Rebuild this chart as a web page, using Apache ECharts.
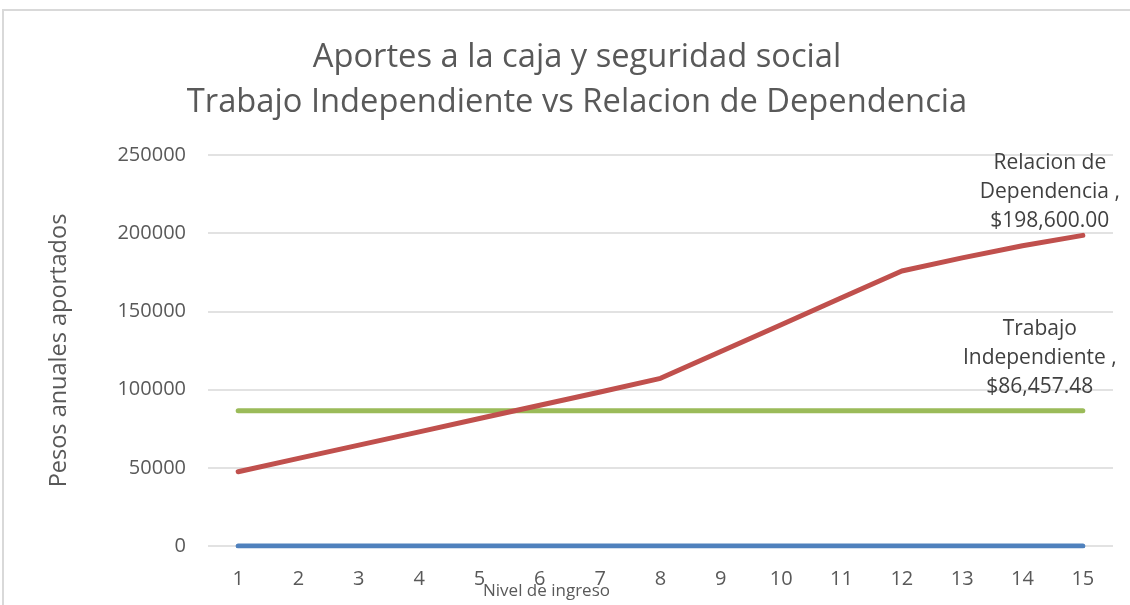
<!DOCTYPE html>
<html><head><meta charset="utf-8">
<script src="https://cdn.jsdelivr.net/npm/echarts@6/dist/echarts.min.js"></script>
<style>html,body{margin:0;padding:0;background:#fff;overflow:hidden}#c{width:1130px;height:605px}</style>
</head><body><div id="c"></div>
<script>
const categories = ['1','2','3','4','5','6','7','8','9','10','11','12','13','14','15'];
const serieIndependiente = [86457.48,86457.48,86457.48,86457.48,86457.48,86457.48,86457.48,86457.48,86457.48,86457.48,86457.48,86457.48,86457.48,86457.48,86457.48];
const serieDependencia = [47500,56000,64500,73000,81500,90000,98500,107200,124400,141500,158700,175800,184200,192000,198600];
const serieBase = [0,0,0,0,0,0,0,0,0,0,0,0,0,0,0];
const titleLines = ['Aportes a la caja y seguridad social','Trabajo Independiente vs Relacion de Dependencia'];

const font = 'Open Sans';
const chart = echarts.init(document.getElementById('c'));
function endLabel(name, fmt, offset) {
  return {
    show: true, position: 'top', distance: 5, offset: offset, align: 'center',
    color: '#404040', fontFamily: font, fontSize: 21, lineHeight: 29,
    formatter: p => p.dataIndex === categories.length - 1 ? name + '\n$' + fmt(p.value) : ''
  };
}
const money = v => v.toLocaleString('en-US', {minimumFractionDigits: 2, maximumFractionDigits: 2});
chart.setOption({
  animation: false,
  graphic: [{type: 'rect', shape: {x: 3, y: 10, width: 1200, height: 700}, style: {fill: 'none', stroke: '#d9d9d9', lineWidth: 2}, silent: true}],
  title: {
    text: titleLines.join('\n'), left: 572, textAlign: 'center', top: 30,
    textStyle: {fontFamily: font, fontSize: 32.7, fontWeight: 'normal', color: '#595959', lineHeight: 45}
  },
  grid: {left: 208, width: 905, top: 155, height: 391, outerBoundsMode: 'none', containLabel: false},
  xAxis: {
    type: 'category', data: categories, boundaryGap: true,
    name: 'Nivel de ingreso', nameLocation: 'middle', nameGap: 37, nameMoveOverlap: false,
    nameTextStyle: {fontFamily: font, fontSize: 17, color: '#595959', padding: [0, 228, 0, 0]},
    axisLine: {show: false}, axisTick: {show: false},
    axisLabel: {fontFamily: font, fontSize: 20, color: '#595959', margin: 23}
  },
  yAxis: {
    type: 'value', min: 0, max: 250000, interval: 50000,
    name: 'Pesos anuales aportados', nameLocation: 'middle', nameGap: 137, nameRotate: 90, nameMoveOverlap: false,
    nameTextStyle: {fontFamily: font, fontSize: 23.5, color: '#595959'},
    axisLine: {show: false}, axisTick: {show: false},
    axisLabel: {fontFamily: font, fontSize: 20, color: '#595959', margin: 22, formatter: v => String(v)},
    splitLine: {lineStyle: {color: '#d9d9d9', width: 1.5}}
  },
  series: [
    {name: 'Base', type: 'line', data: serieBase, symbol: 'none', lineStyle: {color: '#4F81BD', width: 5, cap: 'round'}},
    {name: 'Trabajo Independiente', type: 'line', data: serieIndependiente, symbol: 'circle', symbolSize: 0.1, showSymbol: true,
     itemStyle: {color: '#9BBB59'}, lineStyle: {color: '#9BBB59', width: 5, cap: 'round'},
     label: endLabel('Trabajo\nIndependiente ,', money, [-43, -4])},
    {name: 'Relacion de Dependencia', type: 'line', data: serieDependencia, symbol: 'circle', symbolSize: 0.1, showSymbol: true,
     itemStyle: {color: '#C0504D'}, lineStyle: {color: '#C0504D', width: 5, cap: 'round', join: 'round'},
     label: endLabel('Relacion de\nDependencia ,', money, [-33, 5])}
  ]
});
</script></body></html>
